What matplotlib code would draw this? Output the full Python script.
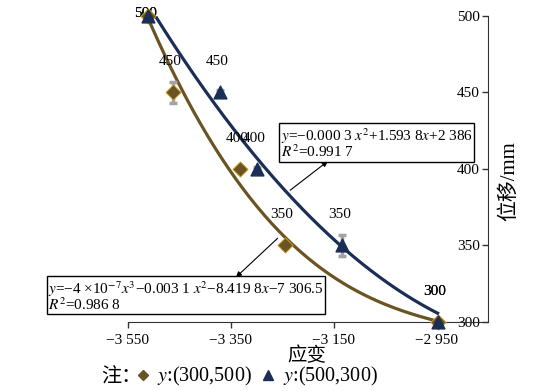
import matplotlib.pyplot as plt
import numpy as np
from matplotlib.lines import Line2D

plt.rcParams['font.family'] = ['Liberation Serif', 'Noto Sans CJK SC']
plt.rcParams['mathtext.fontset'] = 'stix'

# 应变 / 位移 readings
strain_a = [-3511, -3463, -3332, -3245, -2948]   # y:(300,500)
disp_a = [500, 450, 400, 350, 300]
err_a = [1.5, 7, 1.5, 1.5, 1.5]
strain_b = [-3511, -3371, -3300, -3134, -2948]   # y:(500,300)
disp_b = [500, 450, 400, 350, 300]
err_b = [1.5, 1.5, 1.5, 7, 1.5]

# trend lines
trend_a_x = [-3507, -3445, -3352, -3243, -3177, -3100, -3022, -2955]
trend_a_y = [496, 450, 401, 354, 335, 320, 308, 301]
trend_b_x = [-3498, -3387, -3294, -3134, -3036, -2948]
trend_b_y = [499, 450, 401, 350, 323, 306]

xticks = [-3550, -3350, -3150, -2950]
xticklabels = ['−3 550', '−3 350', '−3 150', '−2 950']
yticks = [300, 350, 400, 450, 500]

eq_b = "$y$=−0.000 3 $x^2$+1.593 8$x$+2 386\n$R^2$=0.991 7"
eq_a = "$y$=−4 ×10$^{-7}$$x^3$−0.003 1 $x^2$−8.419 8$x$−7 306.5\n$R^2$=0.986 8"

brown = '#6b5424'
navy = '#1b2e56'
grey = '#a3a3a3'

fig = plt.figure(figsize=(5.34, 3.91), dpi=100)
ax = fig.add_axes([0.2397, 0.1765, 0.6742, 0.7826])

xa = np.linspace(min(trend_a_x), max(trend_a_x), 200)
ax.plot(xa, np.polynomial.Polynomial.fit(trend_a_x, trend_a_y, 4)(xa), color=brown, lw=2.3, zorder=2)
xb = np.linspace(min(trend_b_x), max(trend_b_x), 200)
ax.plot(xb, np.polynomial.Polynomial.fit(trend_b_x, trend_b_y, 2)(xb), color=navy, lw=2.3, zorder=2)

ax.errorbar(strain_a, disp_a, yerr=err_a, fmt='none', ecolor=grey, elinewidth=2.5,
            capsize=3, capthick=2.5, zorder=3)
ax.errorbar(strain_b, disp_b, yerr=err_b, fmt='none', ecolor=grey, elinewidth=2.5,
            capsize=3, capthick=2.5, zorder=3)
ax.scatter(strain_a, disp_a, marker='D', s=60, color=brown, edgecolor='#d9a520', lw=0.6, zorder=4, clip_on=False)
ax.scatter(strain_b, disp_b, marker='^', s=85, color=navy, zorder=4, clip_on=False)

for xs, ys in [(strain_a, disp_a), (strain_b, disp_b)]:
    for x, y in zip(xs, ys):
        off = 2 if y == max(ys) else 22
        ax.annotate(str(y), (x, y), xytext=(-2, off), textcoords='offset points',
                    ha='center', va='center', fontsize=11, annotation_clip=False)

ax.set_xlim(-3550, -2850)
ax.set_ylim(300, 500)
ax.set_xticks(xticks)
ax.set_xticklabels(xticklabels)
ax.set_yticks(yticks)
ax.tick_params(labelsize=11, length=4, width=1, color='#333333')
ax.tick_params(axis='x', pad=5)
ax.tick_params(axis='y', pad=2)
ax.spines['left'].set_position(('axes', 1.0))
ax.spines['right'].set_visible(False)
ax.spines['top'].set_visible(False)
for s in ['left', 'bottom']:
    ax.spines[s].set_color('#333333')
ax.text(1.058, 0.46, '位移/mm', transform=ax.transAxes, rotation=90,
        ha='center', va='center', fontsize=15)
fig.text(0.575, 0.09, '应变', ha='center', va='center', fontsize=14)

# fit equations
fig.text(0.526, 0.633, eq_b, fontsize=11, ha='left', va='center', linespacing=0.8,
         bbox=dict(boxstyle='square,pad=0.1', fc='white', ec='black', lw=1))
ax.annotate('', xy=(0.618, 0.592), xycoords='figure fraction', xytext=(-3239, 385),
            textcoords='data',
            arrowprops=dict(arrowstyle='-|>', color='black', lw=0.8, mutation_scale=8))
fig.text(0.09, 0.243, eq_a, fontsize=11, ha='left', va='center', linespacing=0.8,
         bbox=dict(boxstyle='square,pad=0.1', fc='white', ec='black', lw=1))
ax.annotate('', xy=(0.438, 0.286), xycoords='figure fraction', xytext=(-3255, 356),
            textcoords='data',
            arrowprops=dict(arrowstyle='-|>', color='black', lw=0.8, mutation_scale=8))

# legend
fig.text(0.19, 0.036, '注：', ha='left', va='center', fontsize=14.5)
handles = [Line2D([], [], marker='D', ls='none', color=brown, markersize=5.5),
           Line2D([], [], marker='^', ls='none', color=navy, markersize=6.5)]
fig.legend(handles, ['$y$:(300,500)', '$y$:(500,300)'], loc='center', ncol=2,
           bbox_to_anchor=(0.48, 0.036), frameon=False, fontsize=14.5,
           handlelength=0.8, handletextpad=0.3, columnspacing=0.4)

fig.savefig('out.png', dpi=100)
